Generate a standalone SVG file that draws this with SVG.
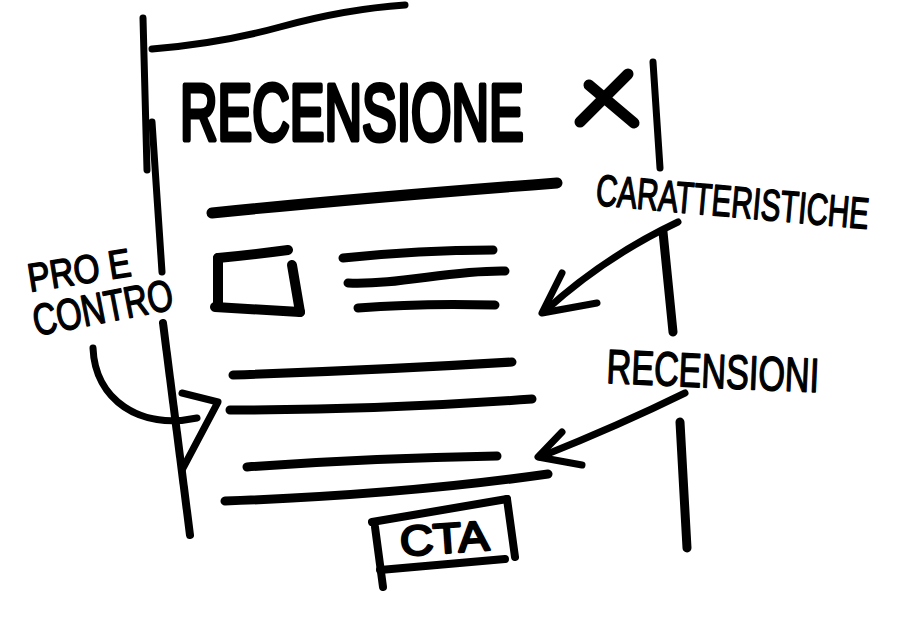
<svg xmlns="http://www.w3.org/2000/svg" width="900" height="630" viewBox="0 0 900 630">
<style>
.s{fill:none;stroke:#000;stroke-linecap:round;stroke-linejoin:round}
.t{font-family:"Liberation Sans","DejaVu Sans",sans-serif;fill:#000;stroke:#000;stroke-linejoin:round;stroke-linecap:round}
</style>
<rect width="900" height="630" fill="#fff"/>
<g id="frame" class="s" stroke-width="7">
<path d="M152,49 C200,45 240,38 280,27 C320,16 360,8 405,5"/>
<path d="M143,18 L147,170"/>
<path d="M152,122 L162,272"/>
<path d="M163,323 L190,535" stroke-width="8"/>
<path d="M653,62 L660,168"/>
<path d="M663,232 L673,332" stroke-width="9"/>
<path d="M680,422 L687,548" stroke-width="9"/>
</g>
<g id="title">
<text class="t" font-size="80" stroke-width="5" transform="translate(180 140) scale(0.65 1)">RECENSIONE</text>
</g>
<g id="close" class="s" stroke-width="11">
<path d="M580,122 L628,74"/>
<path d="M589,85 L634,123"/>
</g>
<g id="header-line" class="s" stroke-width="11">
<path d="M212,213 Q360,198 557,183"/>
</g>
<g id="image-box" class="s" stroke-width="10">
<path d="M218,258 Q250,255 288,250"/>
<path d="M218,258 L218,307"/>
<path d="M215,307 L300,312"/>
<path d="M292,265 L300,312"/>
</g>
<g id="features-text" class="s" stroke-width="9">
<path d="M343,258 Q420,250 493,250"/>
<path d="M348,283 C400,285 450,270 505,271"/>
<path d="M358,308 Q420,303 495,305"/>
</g>
<g id="pros-cons-text" class="s" stroke-width="9">
<path d="M233,375 Q380,370 512,362"/>
<path d="M230,410 Q380,410 532,399"/>
</g>
<g id="reviews-text" class="s" stroke-width="9">
<path d="M247,467 Q370,458 497,456"/>
<path d="M225,501 Q400,495 548,474"/>
</g>
<g id="cta">
<g class="s" stroke-width="8">
<path d="M372,522 L507,499"/>
<path d="M507,499 L515,557"/>
<path d="M380,570 L505,559"/>
<path d="M375,527 L383,587"/>
</g>
<text class="t" font-size="42" stroke-width="2.5" transform="translate(401 556) rotate(-4) scale(1.1 1)">CTA</text>
</g>
<g id="label-caratteristiche">
<text class="t" font-size="44" stroke-width="1.5" transform="translate(595 205) rotate(5) scale(0.672 1)">CARATTERISTICHE</text>
</g>
<g id="label-pro-contro">
<text class="t" font-size="40" stroke-width="1.5" transform="translate(30 292) rotate(-9) scale(0.835 1)">PRO E</text>
<text class="t" font-size="44" stroke-width="1.5" transform="translate(36 336) rotate(-11) scale(0.745 1)">CONTRO</text>
</g>
<g id="label-recensioni">
<text class="t" font-size="48" stroke-width="1.5" transform="translate(606 383) rotate(2.5) scale(0.712 1)">RECENSIONI</text>
</g>
<g id="connectors" class="s" stroke-width="7">
<path d="M93,348 C95,400 140,430 197,418"/>
<path d="M182,393 L218,402 L182,470"/>
<path d="M678,222 C640,240 590,270 545,311"/>
<path d="M562,273 L542,313 L597,303"/>
<path d="M685,393 Q620,425 540,457"/>
<path d="M562,432 L538,457 L582,465"/>
</g>
</svg>
